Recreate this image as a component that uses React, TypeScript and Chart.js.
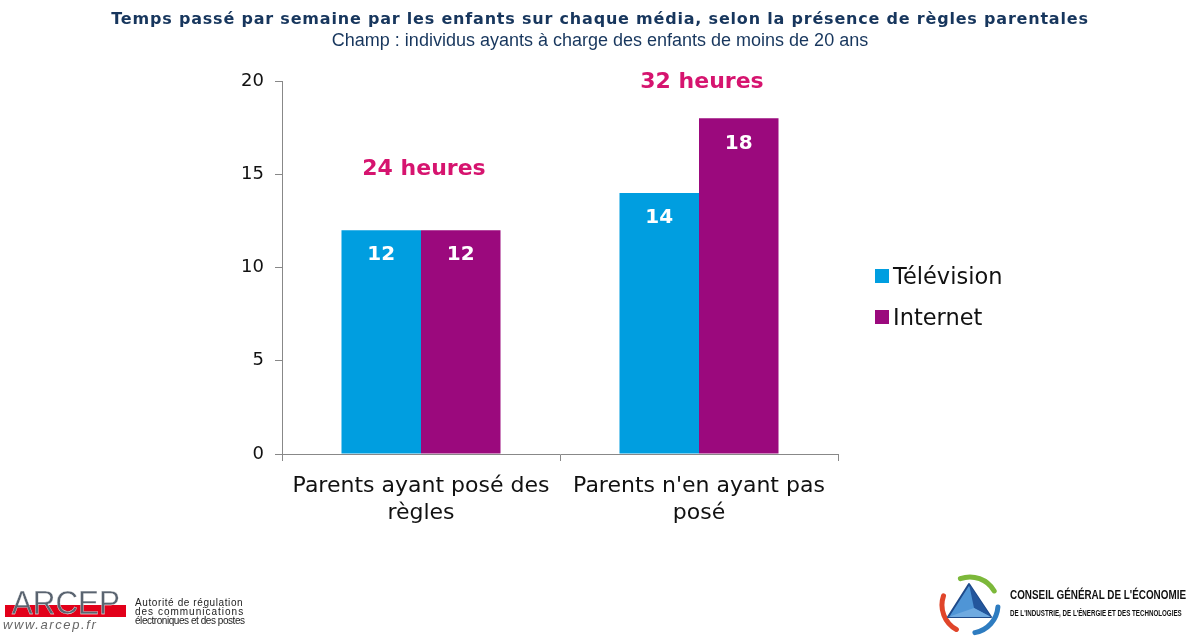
import React, { useEffect, useRef } from "react";
import { Chart, registerables } from "chart.js";

Chart.register(...registerables);

const titleText = "Temps passé par semaine par les enfants sur chaque média, selon la présence de règles parentales";
const subtitleText = "Champ : individus ayants à charge des enfants de moins de 20 ans";
const categories: string[][] = [
  ["Parents ayant posé des", "règles"],
  ["Parents n'en ayant pas", "posé"],
];
const seriesNames = ["Télévision", "Internet"];
const television = [12, 14];
const internet = [12, 18];
const seriesColors = ["#009EE0", "#9B097D"];
const yTicks = [0, 5, 10, 15, 20];
const totalLabelAnchors = [15.25, 19.95];

const FONT = "'DejaVu Sans', Verdana, sans-serif";

const headerPlugin = {
  id: "header",
  afterDraw(chart: any) {
    const ctx = chart.ctx;
    const cx = chart.width / 2;
    ctx.save();
    ctx.textAlign = "center";
    ctx.textBaseline = "middle";
    ctx.fillStyle = "#17365D";
    ctx.font = `bold 16px ${FONT}`;
    (ctx as any).letterSpacing = "0.8px";
    ctx.fillText(titleText, cx + 1, 20);
    (ctx as any).letterSpacing = "0px";
    ctx.font = `18px 'Liberation Sans', Arial, sans-serif`;
    ctx.fillText(subtitleText, cx + 1, 41);
    ctx.restore();
  },
};

const barValuePlugin = {
  id: "barValues",
  afterDatasetsDraw(chart: any) {
    const ctx = chart.ctx;
    ctx.save();
    ctx.fillStyle = "#ffffff";
    ctx.font = `bold 20px ${FONT}`;
    ctx.textAlign = "center";
    ctx.textBaseline = "middle";
    chart.data.datasets.forEach((ds: any, di: number) => {
      const meta = chart.getDatasetMeta(di);
      meta.data.forEach((el: any, i: number) => {
        ctx.fillText(String(ds.data[i]), el.x, el.y + 25);
      });
    });
    ctx.restore();
  },
};

const totalsPlugin = {
  id: "totals",
  afterDatasetsDraw(chart: any) {
    const ctx = chart.ctx;
    const yScale = chart.scales.y;
    ctx.save();
    ctx.fillStyle = "#D6146F";
    ctx.font = `bold 22px ${FONT}`;
    ctx.textAlign = "center";
    ctx.textBaseline = "middle";
    categories.forEach((_, i) => {
      let sum = 0;
      let xs = 0;
      chart.data.datasets.forEach((ds: any, di: number) => {
        sum += ds.data[i];
        xs += chart.getDatasetMeta(di).data[i].x;
      });
      const x = xs / chart.data.datasets.length;
      const y = yScale.getPixelForValue(totalLabelAnchors[i]);
      ctx.fillText(`${sum} heures`, x + 3, y);
    });
    ctx.restore();
  },
};

export default function App() {
  const ref = useRef<HTMLCanvasElement | null>(null);

  useEffect(() => {
    if (!ref.current) return;
    const chart = new Chart(ref.current, {
      type: "bar",
      data: {
        labels: categories,
        datasets: [
          {
            label: seriesNames[0],
            data: television,
            backgroundColor: seriesColors[0],
            categoryPercentage: 0.572,
            barPercentage: 1.0,
          },
          {
            label: seriesNames[1],
            data: internet,
            backgroundColor: seriesColors[1],
            categoryPercentage: 0.572,
            barPercentage: 1.0,
          },
        ],
      },
      options: {
        responsive: false,
        animation: false,
        layout: { padding: { left: 0, right: 0, top: 81, bottom: 0 } },
        plugins: {
          legend: { display: false },
          tooltip: { enabled: false },
          title: { display: false },
        },
        scales: {
          x: {
            offset: true,
            grid: {
              display: true,
              offset: true,
              drawOnChartArea: false,
              drawTicks: true,
              tickLength: 7,
              color: "#888888",
            },
            border: { display: true, color: "#888888", width: 1 },
            ticks: {
              color: "#111111",
              font: { family: FONT, size: 22, lineHeight: 1.23 },
              padding: 12,
              maxRotation: 0,
              autoSkip: false,
            },
            afterFit: (s: any) => {
              s.height = 182;
            },
          },
          y: {
            min: 0,
            max: 20,
            afterBuildTicks: (s: any) => {
              s.ticks = yTicks.map((v) => ({ value: v }));
            },
            grid: {
              display: true,
              drawOnChartArea: false,
              drawTicks: true,
              tickLength: 7,
              color: "#888888",
            },
            border: { display: true, color: "#888888", width: 1 },
            ticks: {
              color: "#111111",
              font: { family: FONT, size: 18 },
              padding: 11,
            },
            afterFit: (s: any) => {
              s.width = 282;
            },
          },
          legendSpace: {
            type: "linear",
            position: "right",
            display: true,
            grid: { display: false },
            border: { display: false },
            ticks: { display: false },
            afterFit: (s: any) => {
              s.width = 360;
            },
          },
        },
      },
      plugins: [barValuePlugin, totalsPlugin, headerPlugin],
    } as any);
    return () => chart.destroy();
  }, []);

  const sans = "'Liberation Sans', Arial, sans-serif";

  return (
    <div style={{ position: "absolute", left: 0, top: 0, width: 1198, height: 636, background: "#fff", overflow: "hidden" }}>
      <canvas ref={ref} width={1198} height={636} style={{ position: "absolute", left: 0, top: 0, width: 1198, height: 636 }} />

      {/* Legend */}
      {seriesNames.map((name, i) => (
        <div
          key={name}
          style={{
            position: "absolute",
            left: 875,
            top: 263 + i * 41,
            height: 26,
            display: "flex",
            alignItems: "center",
            fontFamily: FONT,
            fontSize: 22.5,
            color: "#111",
            whiteSpace: "nowrap",
          }}
        >
          <span style={{ display: "inline-block", width: 14, height: 14, background: seriesColors[i], marginRight: 4 }} />
          {name}
        </div>
      ))}

      {/* ARCEP logo */}
      <div style={{ position: "absolute", left: 5, top: 605, width: 121, height: 12, background: "#E2001A" }} />
      <div
        style={{
          position: "absolute",
          left: 5,
          top: 584,
          width: 121,
          textAlign: "center",
          fontFamily: sans,
          fontSize: 33,
          lineHeight: "38px",
          color: "#5A6470",
          WebkitTextStroke: "0.3px #ffffff",
          whiteSpace: "nowrap",
        }}
      >
        <span style={{ display: "inline-block", transform: "scaleX(0.95)" }}>ARCEP</span>
      </div>
      <div
        style={{
          position: "absolute",
          left: 3,
          top: 617,
          fontFamily: sans,
          fontStyle: "italic",
          fontSize: 13,
          lineHeight: "16px",
          letterSpacing: 1.6,
          color: "#666",
          whiteSpace: "nowrap",
        }}
      >
        www.arcep.fr
      </div>
      <div
        style={{
          position: "absolute",
          left: 135,
          top: 598,
          fontFamily: sans,
          fontSize: 10,
          lineHeight: "9px",
          color: "#222",
          whiteSpace: "nowrap",
        }}
      >
        <div style={{ letterSpacing: 0.6 }}>Autorité de régulation</div>
        <div style={{ letterSpacing: 1.0 }}>des communications</div>
        <div style={{ letterSpacing: -0.45 }}>électroniques et des postes</div>
      </div>

      {/* CGE logo */}
      <svg style={{ position: "absolute", left: 938, top: 570 }} width={66} height={66} viewBox="0 0 66 66">
        <path d="M22.4 8.7 A28 28 0 0 1 56.2 21" stroke="#7CB83A" strokeWidth={5} fill="none" strokeLinecap="round" />
        <path d="M18.4 59.5 A28 28 0 0 1 5.5 25.9" stroke="#E0452A" strokeWidth={5} fill="none" strokeLinecap="round" />
        <path d="M59.9 37 A28 28 0 0 1 36.9 62.6" stroke="#2E7CC0" strokeWidth={5} fill="none" strokeLinecap="round" />
        <polygon points="31,14 53,47 10,47" fill="#4F95D6" stroke="#1E4A8A" strokeWidth={2} strokeLinejoin="round" />
        <polygon points="31,14 53,47 36,38" fill="#23569C" />
        <polygon points="10,47 53,47 36,38" fill="#6FAAE0" />
      </svg>
      <div
        style={{
          position: "absolute",
          left: 1010,
          top: 587,
          fontFamily: sans,
          fontWeight: "bold",
          fontSize: 13,
          lineHeight: "16px",
          color: "#111",
          whiteSpace: "nowrap",
          transform: "scaleX(0.76)",
          transformOrigin: "left center",
        }}
      >
        CONSEIL GÉNÉRAL DE L'ÉCONOMIE
      </div>
      <div
        style={{
          position: "absolute",
          left: 1010,
          top: 607,
          fontFamily: sans,
          fontWeight: "bold",
          fontSize: 9,
          lineHeight: "12px",
          color: "#111",
          whiteSpace: "nowrap",
          transform: "scaleX(0.69)",
          transformOrigin: "left center",
        }}
      >
        DE L'INDUSTRIE, DE L'ÉNERGIE ET DES TECHNOLOGIES
      </div>
    </div>
  );
}
